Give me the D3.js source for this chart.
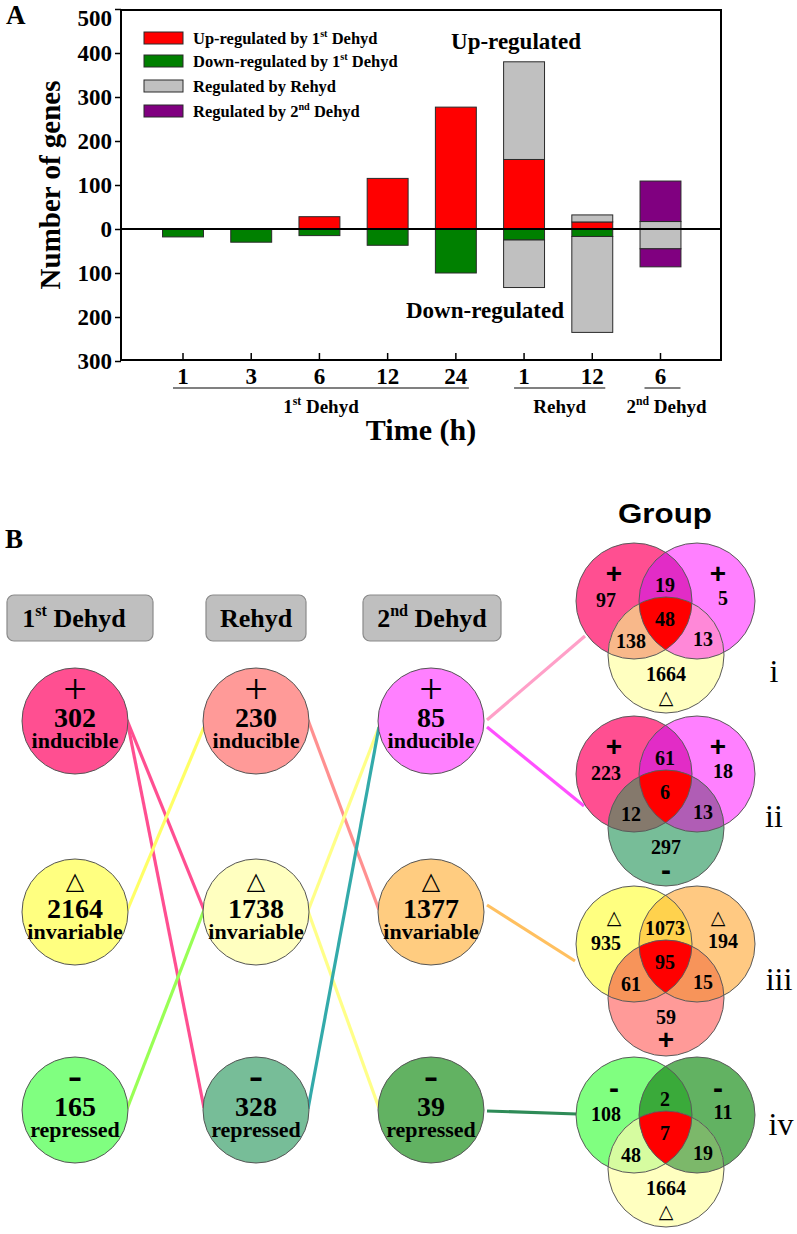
<!DOCTYPE html>
<html><head><meta charset="utf-8">
<script src="https://cdn.jsdelivr.net/npm/d3@7"></script>
<style>
body{margin:0;background:#fff}
</style>
</head><body><svg id="c"></svg>
<script>
// ---------------- DATA ----------------
// Panel A
const categories = ["1","3","6","12","24","1","12","6"];
const up1st     = [0,0,28,115,277,158,16,0];
const down1st   = [18,30,15,37,100,25,17,0];
const upRehyd   = [0,0,0,0,0,222,16,17];
const downRehyd = [0,0,0,0,0,108,218,45];
const up2nd     = [0,0,0,0,0,0,0,92];
const down2nd   = [0,0,0,0,0,0,0,41];
const yTickValues = [500,400,300,200,100,0,-100,-200,-300];
const legendLabels = [["Up-regulated by 1","st"," Dehyd"],["Down-regulated by 1","st"," Dehyd"],["Regulated by Rehyd"],["Regulated by 2","nd"," Dehyd"]];
const timeGroups = [{parts:["1","st"," Dehyd"],from:0,to:4},{parts:["Rehyd"],from:5,to:6},{parts:["2","nd"," Dehyd"],from:7,to:7}];

// Panel B
const stageNames = [["1","st"," Dehyd"],["Rehyd"],["2","nd"," Dehyd"]];
const stageCounts = [[302,2164,165],[230,1738,328],[85,1377,39]];
const stateWords = ["inducible","invariable","repressed"];
const stateSymbols = ["+","\u25B3","-"];
// links: [fromCol, fromRow, toCol, toRow]
const nodeLinks = [[0,0,1,1],[0,0,1,2],[0,1,1,0],[0,2,1,1],[1,0,2,1],[1,1,2,0],[1,1,2,2],[1,2,2,0]];
// links from stage-3 nodes to Venn groups: [row, vennIndex]
const vennLinks = [[0,0],[0,1],[1,2],[2,3]];
const vennNames = ["i","ii","iii","iv"];
const vennA   = [97,223,935,108];
const vennB   = [5,18,194,11];
const vennC   = [1664,297,59,1664];
const vennAB  = [19,61,1073,2];
const vennAC  = [138,12,61,48];
const vennBC  = [13,13,15,19];
const vennABC = [48,6,95,7];
const vennSymbols = [["+","+","\u25B3"],["+","+","-"],["\u25B3","\u25B3","+"],["-","-","\u25B3"]];

// ---------------- STYLE / LAYOUT ----------------
const W = 797, H = 1234;
const SERIF = "Liberation Serif, Times New Roman, serif";
const SANS = "Liberation Sans, Arial, sans-serif";
const svg = d3.select("#c").attr("width", W).attr("height", H).attr("font-family", SERIF);
svg.append("rect").attr("width", W).attr("height", H).attr("fill", "#fff");

function rich(sel, parts, size){
  parts.forEach((p,k)=>{
    const sup = k % 2 === 1;
    const t = sel.append("tspan").text(p);
    if (sup) t.attr("font-size", size*0.62).attr("dy", -size*0.42);
    else if (k > 0) t.attr("dy", size*0.42);
  });
  return sel;
}

// ---------- Panel A ----------
const P = {l:121, r:721, t:10, b:360};
const y = d3.scaleLinear().domain([-300,500]).range([361,9]);
const x = d3.scaleBand().domain(d3.range(categories.length)).range([148.9,694.6]).paddingInner(0.4).paddingOuter(0.2);

const rows = categories.map((c,i)=>({i, u1:up1st[i], uR:upRehyd[i], u2:up2nd[i], d1:-down1st[i], dR:-downRehyd[i], d2:-down2nd[i]}));
const keys = ["u1","uR","u2","d1","dR","d2"];
const barColor = {u1:"#ff0000", uR:"#c0c0c0", u2:"#800080", d1:"#008000", dR:"#c0c0c0", d2:"#800080"};
const stacked = d3.stack().keys(keys).offset(d3.stackOffsetDiverging)(rows);

const gA = svg.append("g");
stacked.forEach(s=>{
  gA.append("g").selectAll("rect").data(s.filter(d=>d[1]!==d[0])).join("rect")
    .attr("x", d=>x(d.data.i)).attr("width", x.bandwidth())
    .attr("y", d=>y(Math.max(d[0],d[1])))
    .attr("height", d=>Math.abs(y(d[0])-y(d[1])))
    .attr("fill", barColor[s.key]).attr("stroke","#2a2a2a").attr("stroke-width",1);
});
// zero line
gA.append("line").attr("x1",P.l).attr("x2",P.r).attr("y1",y(0)).attr("y2",y(0)).attr("stroke","#000").attr("stroke-width",2);
// frame
gA.append("rect").attr("x",P.l).attr("y",P.t).attr("width",P.r-P.l).attr("height",P.b-P.t)
  .attr("fill","none").attr("stroke","#000").attr("stroke-width",2);

// left axis
const ay = gA.append("g").attr("transform",`translate(${P.l},0)`)
  .call(d3.axisLeft(y).tickValues(yTickValues).tickFormat(d=>Math.abs(d)).tickSize(6).tickPadding(3));
ay.select(".domain").remove();
ay.selectAll("line").attr("stroke","#000").attr("stroke-width",1.5);
ay.selectAll("text").attr("font-family",SERIF).attr("font-weight","bold").attr("font-size",23).attr("fill","#000")
  .attr("dy", d=> d===500 ? "0.7em" : "0.32em");

// bottom axis
const ax = gA.append("g").attr("transform",`translate(0,${P.b})`)
  .call(d3.axisBottom(x).tickFormat(i=>categories[i]).tickSize(-7).tickPadding(8));
ax.select(".domain").remove();
ax.selectAll("line").attr("stroke","#000").attr("stroke-width",1.5);
ax.selectAll("text").attr("font-family",SERIF).attr("font-weight","bold").attr("font-size",23).attr("fill","#000");

// group underlines + labels
timeGroups.forEach(g=>{
  const c0 = x(g.from)+x.bandwidth()/2, c1 = x(g.to)+x.bandwidth()/2;
  const x0 = g.from===g.to ? c0-16 : c0-10;
  const x1 = g.from===g.to ? c1+20 : c1+13;
  gA.append("line").attr("x1",x0).attr("x2",x1).attr("y1",388).attr("y2",388).attr("stroke","#808080").attr("stroke-width",2);
  const t = gA.append("text").attr("x",(x0+x1)/2 + (g.from===g.to?4:0)).attr("y",413).attr("text-anchor","middle")
    .attr("font-weight","bold").attr("font-size",19);
  rich(t, g.parts, 19);
});

// titles
gA.append("text").attr("x",421).attr("y",440).attr("text-anchor","middle").attr("font-weight","bold").attr("font-size",30).text("Time (h)");
gA.append("text").attr("transform","translate(60,185) rotate(-90)").attr("text-anchor","middle").attr("font-weight","bold").attr("font-size",29).text("Number of genes");
gA.append("text").attr("x",6).attr("y",24).attr("font-weight","bold").attr("font-size",27).text("A");
gA.append("text").attr("x",516).attr("y",49).attr("text-anchor","middle").attr("font-weight","bold").attr("font-size",23).text("Up-regulated");
gA.append("text").attr("x",485).attr("y",318).attr("text-anchor","middle").attr("font-weight","bold").attr("font-size",23).text("Down-regulated");

// legend
const legColors = ["#ff0000","#008000","#c0c0c0","#800080"];
const legY = [32,55,80,105];
legendLabels.forEach((lab,k)=>{
  gA.append("rect").attr("x",144).attr("y",legY[k]).attr("width",39).attr("height",12)
    .attr("fill",legColors[k]).attr("stroke","#2a2a2a").attr("stroke-width",1);
  const t = gA.append("text").attr("x",193).attr("y",legY[k]+12).attr("font-weight","bold").attr("font-size",16.5);
  rich(t, lab, 16.5);
});

// ---------- Panel B ----------
const gB = svg.append("g");
gB.append("text").attr("x",5).attr("y",548).attr("font-weight","bold").attr("font-size",27).text("B");

const colX = [75, 256, 431];
const rowY = [721, 912, 1110];
const R = 53;
const nodeFill = [["#ff4f91","#ffff80","#80ff80"],["#ff9a98","#ffffc0","#77bd98"],["#ff80ff","#ffcc80","#62b262"]];

// headers
const hdr = [{x:7,w:146},{x:206,w:100},{x:363,w:138}];
stageNames.forEach((nm,k)=>{
  gB.append("rect").attr("x",hdr[k].x).attr("y",595).attr("width",hdr[k].w).attr("height",46).attr("rx",7)
    .attr("fill","#bfbfbf").attr("stroke","#8a8a8a").attr("stroke-width",1.2);
  const t = gB.append("text").attr("x",hdr[k].x+hdr[k].w/2 - (k===0?6:0)).attr("y",627).attr("text-anchor","middle")
    .attr("font-weight","bold").attr("font-size",26);
  rich(t, nm, 26);
});

// node links
const linkColors = ["#ff4f91","#ff4f91","#ffff66","#99ff55","#ff9090","#ffff88","#ffff88","#33aaaa"];
nodeLinks.forEach((l,k)=>{
  gB.append("line")
    .attr("x1",colX[l[0]]+R-1).attr("y1",rowY[l[1]]-1)
    .attr("x2",colX[l[2]]-R+1).attr("y2",rowY[l[3]]+(l[3]===0?6:-2))
    .attr("stroke",linkColors[k]).attr("stroke-width",3.2);
});

// venn geometry
const vCX = 666, vTop = [601,774,944,1115], vR = 58;
const vEnd = [[585,636],[584,806],[575,961],[577,1114]];
const vStartDy = [-1,6,-7,1];
const vLinkColors = ["#ffa0c8","#ff50ff","#ffc060","#2e8b57"];
vennLinks.forEach((l,k)=>{
  gB.append("line").attr("x1",colX[2]+R+3).attr("y1",rowY[l[0]]+vStartDy[k])
    .attr("x2",vEnd[l[1]][0]).attr("y2",vEnd[l[1]][1])
    .attr("stroke",vLinkColors[k]).attr("stroke-width",3.2);
});

// nodes
stageCounts.forEach((col,c)=>{
  col.forEach((n,r)=>{
    const g = gB.append("g").attr("transform",`translate(${colX[c]},${rowY[r]})`);
    g.append("circle").attr("r",R).attr("fill",nodeFill[c][r]).attr("stroke","#555").attr("stroke-width",1);
    const sym = stateSymbols[r];
    if (r===0) g.append("text").attr("y",-18).attr("text-anchor","middle").attr("font-size",42).text(sym);
    else if (r===1) g.append("text").attr("y",-23).attr("text-anchor","middle").attr("font-family","DejaVu Sans").attr("font-size",24).text(sym);
    else g.append("text").attr("y",-21).attr("text-anchor","middle").attr("font-weight","bold").attr("font-size",42).text(sym);
    g.append("text").attr("y",6).attr("text-anchor","middle").attr("font-weight","bold").attr("font-size",28).text(n);
    g.append("text").attr("y",27).attr("text-anchor","middle").attr("font-weight","bold").attr("font-size",22).text(stateWords[r]);
  });
});

// Group title
gB.append("text").attr("x",665).attr("y",523).attr("text-anchor","middle")
  .attr("font-family",SANS).attr("font-weight","bold").attr("font-size",27)
  .attr("textLength",94).attr("lengthAdjust","spacingAndGlyphs").text("Group");

// Venn diagrams
const vFill = [
  {A:"#ff4f91",B:"#ff80ff",C:"#ffffc0",AB:"#e22cc6",AC:"#f8b88a",BC:"#ff88d8"},
  {A:"#ff4f91",B:"#ff80ff",C:"#77bd98",AB:"#e22cc6",AC:"#85796c",BC:"#b05db5"},
  {A:"#ffff80",B:"#ffc982",C:"#ff9a98",AB:"#ffd24d",AC:"#f7945a",BC:"#f7945a"},
  {A:"#80ff80",B:"#62b262",C:"#ffffc0",AB:"#3aaa3a",AC:"#d6fca0",BC:"#7cb86a"}
];
const romanPos = [[774,682],[774,827],[779,990],[781,1135]];
const defs = svg.append("defs");
vennNames.forEach((nm,k)=>{
  const cy = vTop[k];
  const ctr = {A:[vCX-32,cy], B:[vCX+31,cy], C:[vCX,cy+54]};
  ["A","B","C"].forEach(s=>{
    defs.append("clipPath").attr("id",`v${k}${s}`).append("circle")
      .attr("cx",ctr[s][0]).attr("cy",ctr[s][1]).attr("r",vR);
  });
  const g = gB.append("g");
  ["A","B","C"].forEach(s=>{
    g.append("circle").attr("cx",ctr[s][0]).attr("cy",ctr[s][1]).attr("r",vR).attr("fill",vFill[k][s]);
  });
  [["AB","A","B"],["AC","A","C"],["BC","B","C"]].forEach(([key,s1,s2])=>{
    g.append("circle").attr("cx",ctr[s1][0]).attr("cy",ctr[s1][1]).attr("r",vR)
      .attr("clip-path",`url(#v${k}${s2})`).attr("fill",vFill[k][key]);
  });
  g.append("g").attr("clip-path",`url(#v${k}B)`).append("circle")
    .attr("cx",ctr.A[0]).attr("cy",ctr.A[1]).attr("r",vR).attr("clip-path",`url(#v${k}C)`).attr("fill","#ff0000");
  ["A","B","C"].forEach(s=>{
    g.append("circle").attr("cx",ctr[s][0]).attr("cy",ctr[s][1]).attr("r",vR)
      .attr("fill","none").attr("stroke","#5a5a5a").attr("stroke-width",1);
  });
  // numbers
  const nums = [[vennA[k],-60,-1],[vennB[k],57,-3],[vennAB[k],-1,-16],[vennABC[k],-1,18],[vennAC[k],-35,40],[vennBC[k],37,38],[vennC[k],0,73]];
  nums.forEach(([v,dx,dy])=>{
    g.append("text").attr("x",vCX+dx).attr("y",cy+dy).attr("dy","0.35em").attr("text-anchor","middle")
      .attr("font-weight","bold").attr("font-size",20).text(v);
  });
  const symPos = [[-52,-28],[52,-28],[0,95]];
  vennSymbols[k].forEach((s,j)=>{
    const t = g.append("text").attr("x",vCX+symPos[j][0]).attr("y",cy+symPos[j][1]).attr("text-anchor","middle");
    if (s==="\u25B3") t.attr("dy","0.4em").attr("font-family","DejaVu Sans").attr("font-size",19);
    else if (s==="+") t.attr("dy","0.36em").attr("font-family",SANS).attr("font-weight","bold").attr("font-size",28);
    else t.attr("dy","0.36em").attr("font-family",SANS).attr("font-weight","bold").attr("font-size",30);
    t.text(s);
  });
  gB.append("text").attr("x",romanPos[k][0]).attr("y",romanPos[k][1]).attr("text-anchor","middle")
    .attr("font-size",32).text(nm);
});
</script>
</body></html>
